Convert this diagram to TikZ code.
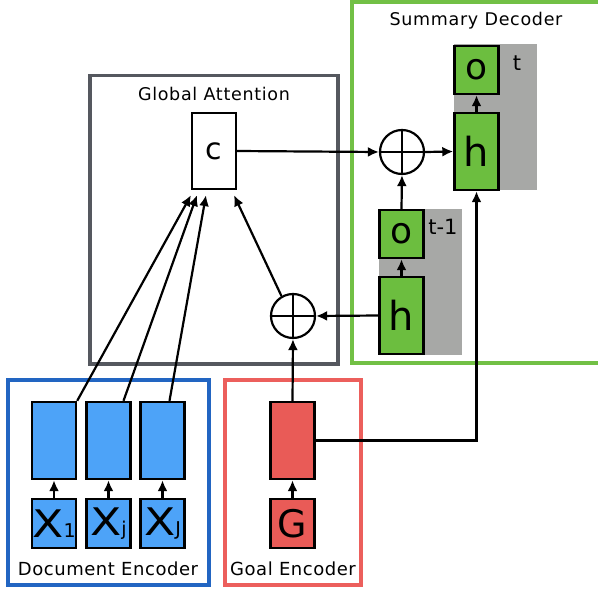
\documentclass[tikz,border=0pt]{standalone}
\usepackage{fontspec}
\setmainfont{DejaVu Sans}
\usetikzlibrary{arrows.meta}
\definecolor{docblue}{HTML}{2265C2}
\definecolor{cellblue}{HTML}{4DA3F8}
\definecolor{goalred}{HTML}{EC5F5C}
\definecolor{cellred}{HTML}{E95B57}
\definecolor{decgreen}{HTML}{72C045}
\definecolor{cellgreen}{HTML}{6CBE3F}
\definecolor{attgray}{HTML}{55585F}
\definecolor{stepgray}{HTML}{A7A8A6}
\newcommand{\fs}[1]{\fontsize{#1}{#1}\selectfont}
\newcommand{\wideX}{\scalebox{1.2}[1]{X}}
\begin{document}
\begin{tikzpicture}[x=1pt,y=-1pt,
  frame/.style={line width=3.5pt},
  cell/.style={draw=black,line width=2.4pt,inner sep=0pt,minimum width=44pt},
  tall/.style={cell,minimum height=77pt},
  short/.style={cell,minimum height=49pt},
  conn/.style={line width=2.2pt},
  arr/.style={conn,-{Latex[length=11pt,width=10pt]}},
  plus/.style={circle,draw=black,line width=2.2pt,minimum size=44pt,inner sep=0pt},
  lab/.style={font=\addfontfeatures{LetterSpace=3}\fs{18}},
  toplab/.style={font=\addfontfeatures{LetterSpace=4}\fs{17.5}},
]
\useasboundingbox (0,0) rectangle (598,589);
\clip (0,0) rectangle (598,589);
% frames
\draw[frame,attgray] (90,75.5) rectangle (338,364);
\draw[frame,decgreen] (352,2) rectangle (610,363);
\draw[frame,docblue] (8,380) rectangle (209,585);
\draw[frame,goalred] (225,380) rectangle (361,585);
% frame labels
\node[toplab,anchor=base] (lga) at (214,100) {Global Attention};
\node[toplab,anchor=base] (lsd) at (476,25) {Summary Decoder};
\node[lab,anchor=base] (lde) at (108,575) {Document Encoder};
\node[lab,anchor=base] (lge) at (293,575) {Goal Encoder};
% gray step backgrounds
\fill[stepgray] (454,44) rectangle (537,190);
\fill[stepgray] (379,209) rectangle (462,355);
\node[font=\fs{21},anchor=base] (lt) at (517,70) {t};
\node[font=\fs{21},anchor=base] (ltm) at (443,234) {t-1};
% decoder cells
\node[short,fill=cellgreen,minimum height=48pt,font=\fs{36}] (o2) at (476.5,70) {o};
\node[tall,fill=cellgreen,font=\fs{40}] (h2) at (476.5,151.5) {h};
\node[short,fill=cellgreen,minimum height=48pt,font=\fs{36}] (o1) at (401.5,234) {o};
\node[tall,fill=cellgreen,font=\fs{40}] (h1) at (401.5,315.5) {h};
% attention
\node[draw=black,line width=2.2pt,fill=white,minimum width=44pt,minimum height=76pt,inner sep=0pt,font=\fs{30}] (c) at (214,151) {\raisebox{-4pt}{c}};
\node[plus] (p1) at (293,316) {};
\draw[line width=2.2pt] (p1.north) -- (p1.south) (p1.west) -- (p1.east);
\node[plus] (p2) at (402,152) {};
\draw[line width=2.2pt] (p2.north) -- (p2.south) (p2.west) -- (p2.east);
% document encoder
\node[tall,fill=cellblue] (e1) at (54,440.5) {};
\node[tall,fill=cellblue] (e2) at (108.5,440.5) {};
\node[tall,fill=cellblue] (e3) at (162.5,440.5) {};
\node[short,fill=cellblue,font=\fs{38}] (x1) at (54,523.5) {\wideX\fs{19}1};
\node[short,fill=cellblue,font=\fs{38}] (x2) at (108.5,523.5) {\wideX\fs{19}j};
\node[short,fill=cellblue,font=\fs{38}] (x3) at (162.5,523.5) {\wideX\fs{19}J};
% goal encoder
\node[tall,fill=cellred] (g1) at (292.5,440.5) {};
\node[short,fill=cellred,font=\fs{38}] (g) at (292.5,523.5) {G};
% short arrows
\foreach \a/\b in {x1/e1,x2/e2,x3/e3,g/g1,h2/o2,h1/o1}
  \draw[arr] (\a.north) -- (\b.south);
% attention arrows
\draw[arr] (e1.north east) -- ([xshift=-23pt,yshift=-5pt]c.south);
\draw[arr] ([xshift=15pt]e2.north) -- ([xshift=-17pt,yshift=-5pt]c.south);
\draw[arr] ([xshift=7pt]e3.north) -- ([xshift=-8pt,yshift=-5pt]c.south);
\draw[arr] (p1.120) -- ([xshift=20pt,yshift=-5pt]c.south);
\draw[arr] (g1.north) -- (p1.south);
\draw[arr] (h1.west) -- (p1.east);
\draw[arr] (c.east) -- (p2.west);
\draw[arr] (p2.east) -- (h2.west);
\draw[arr] (o1.north) -- (p2.south);
\draw[arr] (g1.east) -| (h2.south);
\end{tikzpicture}
\end{document}
